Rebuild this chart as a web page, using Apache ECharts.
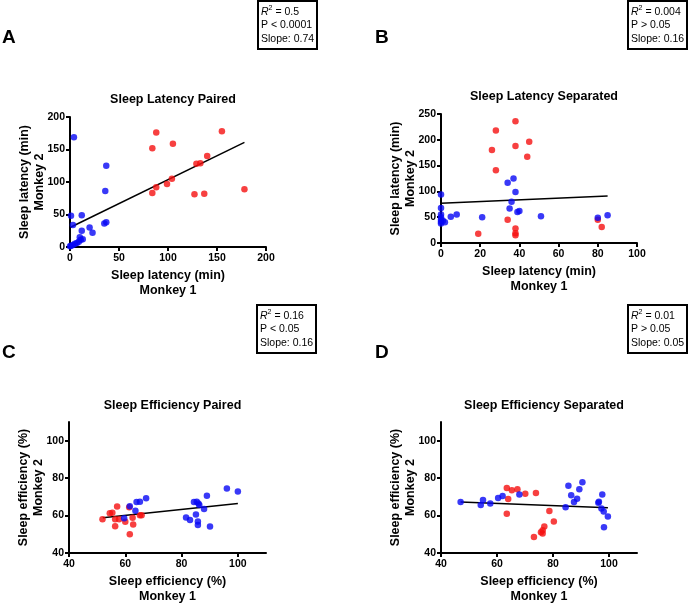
<!DOCTYPE html>
<html>
<head>
<meta charset="utf-8">
<script src="https://cdn.jsdelivr.net/npm/echarts@6/dist/echarts.min.js"></script>
<style>
  html, body { margin: 0; padding: 0; background: #fff; }
  #chart { width: 691px; height: 603px; }
</style>
</head>
<body>
<div id="chart"></div>
<script>
// panel A - sleep latency paired [monkey1, monkey2]
const latPairedBlue = [
  [4, 169], [1, 48], [3, 34], [12, 49], [12, 25], [20, 30], [23, 22],
  [37, 125], [36, 86], [37, 38], [35, 36], [0, 1], [1, 2], [3, 3],
  [5, 5], [7, 6], [9, 8], [11, 11], [13, 12], [10, 15]
]
const latPairedRed = [
  [88, 176], [84, 152], [105, 159], [155, 178], [84, 83], [88, 92],
  [99, 97], [104, 105], [129, 128], [133, 129], [140, 140], [127, 81],
  [137, 82], [178, 89]
]
const latPairedFit = [[0, 30], [178, 161]]

// panel B - sleep latency separated
const latSepBlue = [
  [0, 94], [0, 68], [0, 55], [0, 50], [0, 45], [0, 41], [0, 38], [1, 43],
  [2, 40], [5, 51], [8, 55], [21, 50], [34, 117], [37, 125], [38, 99],
  [36, 80], [35, 67], [39, 60], [40, 62], [51, 52], [80, 49], [85, 54]
]
const latSepRed = [
  [38, 236], [28, 218], [38, 188], [45, 196], [26, 180], [44, 167],
  [28, 141], [34, 45], [38, 28], [38, 19], [38, 15], [19, 18], [80, 45], [82, 31]
]
const latSepFit = [[0, 77], [85, 91]]

// panel C - sleep efficiency paired
const effPairedBlue = [
  [59.6, 58.6], [61.6, 65], [63.6, 62.6], [64, 67.2], [65.2, 67.4], [67.4, 69.2],
  [81.6, 59], [83, 57.6], [84.4, 67.2], [85.4, 67.4], [86.3, 65.6], [85.1, 60.6],
  [85.8, 56.8], [85.8, 55], [88, 63.5], [89, 70.6], [90.1, 54.1], [96.1, 74.4],
  [100, 72.8], [86, 66.5]
]
const effPairedRed = [
  [51.9, 58.1], [54.5, 61.3], [55.4, 61.5], [57.1, 64.9], [56.4, 58.1], [57.8, 58.1],
  [56.4, 54.3], [60, 56.7], [61.4, 64.4], [62.6, 58.8], [62.8, 55.2], [61.6, 50],
  [65.2, 60.2], [65.8, 60.2]
]
const effPairedFit = [[52, 58.8], [100, 66.5]]

// panel D - sleep efficiency separated
const effSepBlue = [
  [47, 67.2], [54.2, 65.6], [55, 68.3], [57.6, 66.4], [60.4, 69.4], [62, 70.4],
  [68, 71.3], [84.5, 64.5], [85.5, 76], [86.5, 70.8], [87.5, 67.2], [88.6, 69],
  [89.4, 74], [90.5, 77.8], [96.2, 66.9], [96.4, 67.4], [97.6, 71.3], [97.3, 63.8],
  [98.1, 62.2], [98.2, 53.8], [99.6, 59.5]
]
const effSepRed = [
  [63.5, 74.7], [65.3, 73.5], [67.3, 74], [70.1, 71.7], [73.9, 72.1], [64, 68.8],
  [63.5, 61], [78.7, 62.4], [80.3, 56.8], [76.9, 54.1], [76.3, 52.2], [75.7, 51.1],
  [76.3, 50.4], [73.2, 48.6]
]
const effSepFit = [[47, 67.2], [99.6, 64.2]]

const titles = ['Sleep Latency Paired', 'Sleep Latency Separated', 'Sleep Efficiency Paired', 'Sleep Efficiency Separated']
const xNames = ['Sleep latency (min)\nMonkey 1', 'Sleep latency (min)\nMonkey 1', 'Sleep efficiency (%)\nMonkey 1', 'Sleep efficiency (%)\nMonkey 1']
const yNames = ['Sleep latency (min)\nMonkey 2', 'Sleep latency (min)\nMonkey 2', 'Sleep efficiency (%)\nMonkey 2', 'Sleep efficiency (%)\nMonkey 2']
const stats = [
  ['0.5', 'P < 0.0001', 'Slope: 0.74'],
  ['0.004', 'P > 0.05', 'Slope: 0.16'],
  ['0.16', 'P < 0.05', 'Slope: 0.16'],
  ['0.01', 'P > 0.05', 'Slope: 0.05']
]
const letters = ['A', 'B', 'C', 'D']

const FONT = 'Liberation Sans, Arial, sans-serif'
const BLUE = '#0808f5'
const RED = '#f51010'

const grids = [
  { left: 70, top: 117, width: 196, height: 130 },
  { left: 441, top: 114, width: 196, height: 129 },
  { left: 69, top: 422, width: 197, height: 131 },
  { left: 441, top: 422, width: 196, height: 131 }
]
const xRanges = [[0, 200, 50], [0, 100, 20], [40, 110, 20], [40, 110, 20]]
const yRanges = [[0, 200, 50], [0, 250, 50], [40, 110, 20], [40, 110, 20]]
const titleTop = [88, 85, 394, 394]
const boxPos = [[258, 1], [628, 1], [257, 305], [628, 305]]
const letterPos = [[2, 28], [375, 28], [2, 343], [375, 343]]

function axis(range, name, isX) {
  const [min, max, interval] = range
  const ticks = []
  for (let v = min; v <= max; v += interval) ticks.push(v)
  return {
    type: 'value',
    min, max, interval,
    name,
    nameLocation: 'middle',
    nameGap: isX ? 21 : 23,
    nameMoveOverlap: false,
    nameTextStyle: { fontFamily: FONT, fontWeight: 'bold', fontSize: 12.5, color: '#000', lineHeight: 15 },
    axisLine: { show: true, onZero: false, lineStyle: { color: '#000', width: 2 } },
    axisTick: { show: true, length: 4, customValues: ticks, lineStyle: { color: '#000', width: 2 } },
    axisLabel: { margin: isX ? 6 : 5, customValues: ticks, fontFamily: FONT, fontWeight: 'bold', fontSize: 10.5, color: '#000' },
    splitLine: { show: false }
  }
}

const panels = [
  [latPairedBlue, latPairedRed, latPairedFit],
  [latSepBlue, latSepRed, latSepFit],
  [effPairedBlue, effPairedRed, effPairedFit],
  [effSepBlue, effSepRed, effSepFit]
]

const series = []
panels.forEach(([blue, red, fit], i) => {
  series.push({
    type: 'line', xAxisIndex: i, yAxisIndex: i, data: fit, symbol: 'none', z: 1,
    lineStyle: { color: '#000', width: 1.5 }, silent: true
  })
  series.push({
    type: 'scatter', xAxisIndex: i, yAxisIndex: i, data: red, symbolSize: 6.5, z: 2,
    itemStyle: { color: RED }
  })
  series.push({
    type: 'scatter', xAxisIndex: i, yAxisIndex: i, data: blue, symbolSize: 6.5, z: 3,
    itemStyle: { color: BLUE }
  })
})

const graphic = []
stats.forEach((s, i) => {
  const [x, y] = boxPos[i]
  graphic.push({
    type: 'rect', shape: { x, y, width: 59, height: 48 },
    style: { fill: '#fff', stroke: '#000', lineWidth: 2 }
  })
  graphic.push({
    type: 'text', x: x + 3, y: y + 4,
    style: {
      text: '{i|R}{s|2} = ' + s[0] + '\n' + s[1] + '\n' + s[2],
      font: '10.5px ' + FONT, fill: '#000', lineHeight: 13.5,
      rich: {
        i: { fontStyle: 'italic', fontSize: 10.5, fontFamily: FONT, lineHeight: 13.5 },
        s: { fontSize: 7, fontFamily: FONT, verticalAlign: 'top', lineHeight: 13.5 }
      }
    }
  })
})
letters.forEach((l, i) => {
  graphic.push({
    type: 'text', x: letterPos[i][0], y: letterPos[i][1],
    style: { text: l, font: 'bold 19px ' + FONT, fill: '#000' }
  })
})

const chart = echarts.init(document.getElementById('chart'))
chart.setOption({
  animation: false,
  backgroundColor: '#fff',
  title: titles.map((t, i) => ({
    text: t,
    left: grids[i].left + grids[i].width / 2,
    top: titleTop[i],
    textAlign: 'center',
    textStyle: { fontFamily: FONT, fontWeight: 'bold', fontSize: 12.5, color: '#000' }
  })),
  grid: grids.map(g => Object.assign({ outerBoundsMode: 'none' }, g)),
  xAxis: xRanges.map((r, i) => Object.assign(axis(r, xNames[i], true), { gridIndex: i })),
  yAxis: yRanges.map((r, i) => Object.assign(axis(r, yNames[i], false), { gridIndex: i })),
  series,
  graphic
})
</script>
</body>
</html>
